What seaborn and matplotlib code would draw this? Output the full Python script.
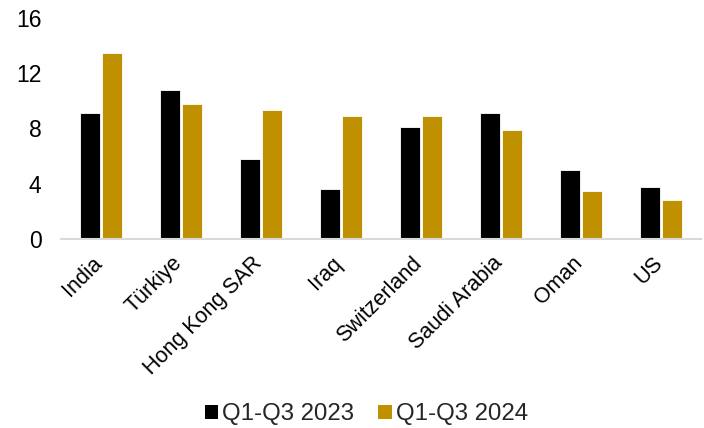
import matplotlib
matplotlib.use("Agg")
import matplotlib.pyplot as plt
import matplotlib.transforms as mtransforms
import seaborn as sns
import pandas as pd
from matplotlib.patches import Patch

countries = ["India", "Türkiye", "Hong Kong SAR", "Iraq", "Switzerland",
             "Saudi Arabia", "Oman", "US"]
q1q3_2023 = [9.1, 10.8, 5.8, 3.6, 8.1, 9.1, 5.0, 3.8]
q1q3_2024 = [13.5, 9.8, 9.35, 8.9, 8.9, 7.9, 3.45, 2.85]
series_names = ["Q1-Q3 2023", "Q1-Q3 2024"]
colors = ["#000000", "#BF9000"]
y_ticks = [0, 4, 8, 12, 16]

df = pd.DataFrame({
    "country": countries * 2,
    "value": q1q3_2023 + q1q3_2024,
    "period": [series_names[0]] * len(countries) + [series_names[1]] * len(countries),
})

sns.set_theme(style="white")
plt.rcParams["font.family"] = ["Liberation Sans", "DejaVu Sans"]

fig = plt.figure(figsize=(7.04, 4.28), dpi=100)
ax = fig.add_axes([0.0866, 0.4416, 0.9094, 0.5164])

sns.barplot(data=df, x="country", y="value", hue="period", palette=colors,
            saturation=1, width=0.55, gap=0.09, ax=ax, legend=False,
            edgecolor="white", linewidth=0.6)

ax.set_ylim(0, 16)
ax.set_xlim(-0.5, len(countries) - 0.5)
ax.set_yticks(y_ticks)
ax.set_yticklabels([str(t) for t in y_ticks], fontsize=16.5, color="#000000")
ax.set_xticks(range(len(countries)))
ax.set_xticklabels(countries, rotation=45, ha="right", va="baseline",
                   rotation_mode="anchor", fontsize=15.5, color="#000000")
ax.tick_params(axis="both", length=0)
ax.tick_params(axis="x", pad=18)
ax.tick_params(axis="y", pad=14)
shift = mtransforms.ScaledTranslation(2 / 100, 0, fig.dpi_scale_trans)
for lbl in ax.get_xticklabels():
    lbl.set_transform(lbl.get_transform() + shift)
ax.set_xlabel("")
ax.set_ylabel("")

for side in ["top", "right", "left"]:
    ax.spines[side].set_visible(False)
ax.spines["bottom"].set_color("#d9d9d9")
ax.spines["bottom"].set_linewidth(1.5)

handles = [Patch(facecolor=c, edgecolor="none") for c in colors]
fig.legend(handles, series_names, loc="center", bbox_to_anchor=(0.5206, 0.032),
           ncol=2, frameon=False, fontsize=17.3, handlelength=0.55,
           handleheight=0.55, handletextpad=0.17, columnspacing=1.0)

fig.savefig("out.png", dpi=100)
